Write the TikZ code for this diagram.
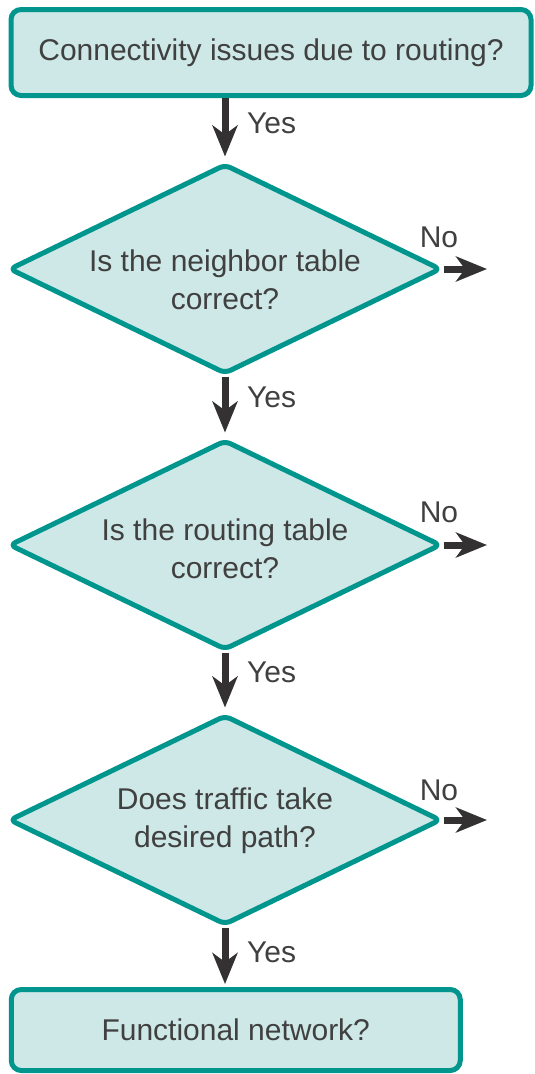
\documentclass[tikz,border=0pt]{standalone}
\usepackage{fontspec}
\setmainfont{Liberation Sans}
\usetikzlibrary{shapes.geometric,arrows.meta}
\definecolor{teal}{HTML}{00958D}
\definecolor{fillc}{HTML}{CDE8E6}
\definecolor{txt}{HTML}{404040}
\definecolor{arr}{HTML}{333132}
\begin{document}
\begin{tikzpicture}[x=1pt,y=-1pt,
  every node/.style={text=txt,font=\fontsize{30}{38}\selectfont},
  procbox/.style={draw=teal,fill=fillc,line width=5pt,rounded corners=10pt,rectangle,inner sep=0pt},
  decision/.style={draw=teal,fill=fillc,line width=5pt,rounded corners=6pt,diamond,inner sep=0pt,minimum width=432pt,minimum height=210pt},
  dtext/.style={align=center,inner sep=0pt},
  flow/.style={draw=arr,line width=7pt,-{Stealth[length=31pt,width=25pt,inset=9pt]}},
  lbl/.style={inner sep=0pt,anchor=west}
]
\useasboundingbox (0,0) rectangle (535,1074);
\node[procbox,minimum width=520pt,minimum height=86pt] (start) at (271,52.5) {Connectivity issues due to routing?};
\node[decision] (d1) at (225,269) {};
\node[dtext] (t1) at (225,280) {Is the neighbor table\\correct?};
\node[decision] (d2) at (225,545) {};
\node[dtext] (t2) at (225,549) {Is the routing table\\correct?};
\node[decision] (d3) at (225,820) {};
\node[dtext] (t3) at (225,821) {Does traffic take\\desired path?};
\node[procbox,minimum width=449pt,minimum height=81pt] (end) at (235.75,1030) {Functional network?};

\coordinate (n1) at (487,269);
\coordinate (n2) at (487,545);
\coordinate (n3) at (487,820);

\draw[flow,shorten >=5pt] (start.south -| d1.north) -- (d1.north);
\draw[flow,shorten >=5pt] (d1.south) -- (d2.north);
\draw[flow,shorten >=5pt] (d2.south) -- (d3.north);
\draw[flow,shorten >=3pt] (d3.south) -- (end.north -| d3.south);
\draw[flow] (d1.east) -- (n1);
\draw[flow] (d2.east) -- (n2);
\draw[flow] (d3.east) -- (n3);

\node[lbl] (y1) at (247,123) {Yes};
\node[lbl] (y2) at (247,397) {Yes};
\node[lbl] (y3) at (247,672) {Yes};
\node[lbl] (y4) at (247,952) {Yes};
\node[inner sep=0pt] (no1) at (439,237) {No};
\node[inner sep=0pt] (no2) at (439,512) {No};
\node[inner sep=0pt] (no3) at (439,790) {No};
\end{tikzpicture}
\end{document}
